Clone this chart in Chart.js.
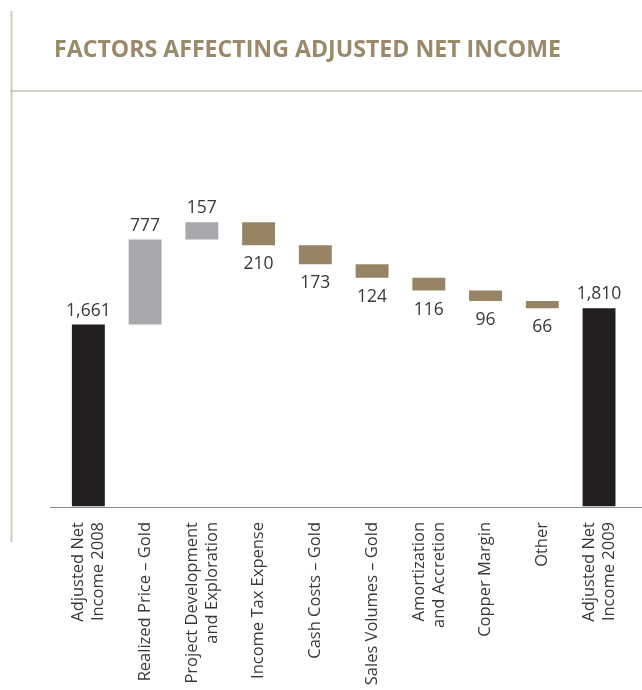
<!DOCTYPE html>
<html>
<head>
<meta charset="utf-8">
<script src="https://cdn.jsdelivr.net/npm/chart.js@4.4.1/dist/chart.umd.min.js"></script>
<style>
  html, body { margin: 0; padding: 0; background: #fff; }
  #wrap { position: relative; width: 642px; height: 690px; }
</style>
</head>
<body>
<div id="wrap"><canvas id="waterfall" width="642" height="690"></canvas></div>
<script>
const chartTitle = "FACTORS AFFECTING ADJUSTED NET INCOME";

const categories = [
    ["Adjusted Net", "Income 2008"],
    "Realized Price – Gold",
    ["Project Development", "and Exploration"],
    "Income Tax Expense",
    "Cash Costs – Gold",
    "Sales Volumes – Gold",
    ["Amortization", "and Accretion"],
    "Copper Margin",
    "Other",
    ["Adjusted Net", "Income 2009"]
];

// Veränderungen (Summen am Anfang und Ende)
const changes = [1661, 777, 157, -210, -173, -124, -116, -96, -66, 1810];
const kinds = ["total", "up", "up", "down", "down", "down", "down", "down", "down", "total"];

const colors = { total: "#231f20", up: "#a7a8ab", down: "#968465" };

// Schwebende Balken aus laufender Summe
let running = 0;
const ranges = changes.map((v, i) => {
    if (kinds[i] === "total") {
        running = v;
        return [0, v];
    }
    const start = running;
    running += v;
    return [start, running];
});

const fmt = v => Math.abs(v).toLocaleString("en-US");

const decorPlugin = {
    id: "decor",
    beforeDraw(chart) {
        const ctx = chart.ctx;
        const y0 = chart.scales.y.getPixelForValue(0);
        ctx.save();
        // linke Randlinie
        ctx.fillStyle = "#d3cbbc";
        ctx.fillRect(10.5, 11, 2, 531);
        // Linie unter dem Titel
        ctx.fillStyle = "#aca290";
        ctx.fillRect(11, 90.5, 631, 1);
        // Titel
        ctx.fillStyle = "#9a8a6a";
        ctx.font = '700 23.5px "Open Sans"';
        ctx.textBaseline = "alphabetic";
        ctx.textAlign = "left";
        ctx.fillText(chartTitle, 54, 56.5, 507);
        // Grundlinie
        ctx.fillStyle = "#8c8c8c";
        ctx.fillRect(50, Math.round(y0), 592, 1);
        ctx.restore();
    },
    afterDatasetsDraw(chart) {
        const ctx = chart.ctx;
        const meta = chart.getDatasetMeta(0);
        ctx.save();
        ctx.fillStyle = "#383838";
        ctx.font = '400 17.5px "Open Sans"';
        ctx.textAlign = "center";
        ctx.textBaseline = "alphabetic";
        meta.data.forEach((bar, i) => {
            const top = Math.min(bar.y, bar.base);
            const bottom = Math.max(bar.y, bar.base);
            if (kinds[i] === "down") {
                ctx.fillText(fmt(changes[i]), bar.x, bottom + 24);
            } else {
                ctx.fillText(fmt(changes[i]), bar.x, top - 9);
            }
        });
        ctx.restore();
    },
    afterDraw(chart) {
        // Kategorien senkrecht, mehrzeilige Beschriftung um den Tick zentriert
        const ctx = chart.ctx;
        const xScale = chart.scales.x;
        const yTop = chart.chartArea.bottom + 15.5;
        const lh = 20;
        ctx.save();
        ctx.fillStyle = "#383838";
        ctx.font = '400 16.5px "Open Sans"';
        ctx.textAlign = "right";
        ctx.textBaseline = "middle";
        categories.forEach((label, i) => {
            const lines = Array.isArray(label) ? label : [label];
            const x = xScale.getPixelForTick(i);
            lines.forEach((line, j) => {
                const off = (j - (lines.length - 1) / 2) * lh;
                ctx.save();
                ctx.translate(x + off, yTop);
                ctx.rotate(-Math.PI / 2);
                ctx.fillText(line, 0, 0);
                ctx.restore();
            });
        });
        ctx.restore();
    }
};

new Chart(document.getElementById("waterfall"), {
    type: "bar",
    data: {
        labels: categories,
        datasets: [{
            data: ranges,
            backgroundColor: kinds.map(k => colors[k]),
            borderWidth: 0,
            borderSkipped: false,
            barPercentage: 0.58,
            categoryPercentage: 1
        }]
    },
    options: {
        responsive: false,
        animation: false,
        devicePixelRatio: 1,
        layout: { padding: { left: 60, right: 14.6, top: 178, bottom: 0 } },
        plugins: {
            legend: { display: false },
            title: { display: false },
            tooltip: { enabled: false }
        },
        scales: {
            x: {
                grid: { display: false, drawTicks: false },
                border: { display: false },
                ticks: { display: false },
                afterFit(scale) {
                    scale.height = 183.5;
                    scale.paddingLeft = 0;
                    scale.paddingRight = 0;
                }
            },
            y: {
                display: false,
                min: 0,
                max: 3000
            }
        }
    },
    plugins: [decorPlugin]
});
</script>
</body>
</html>
